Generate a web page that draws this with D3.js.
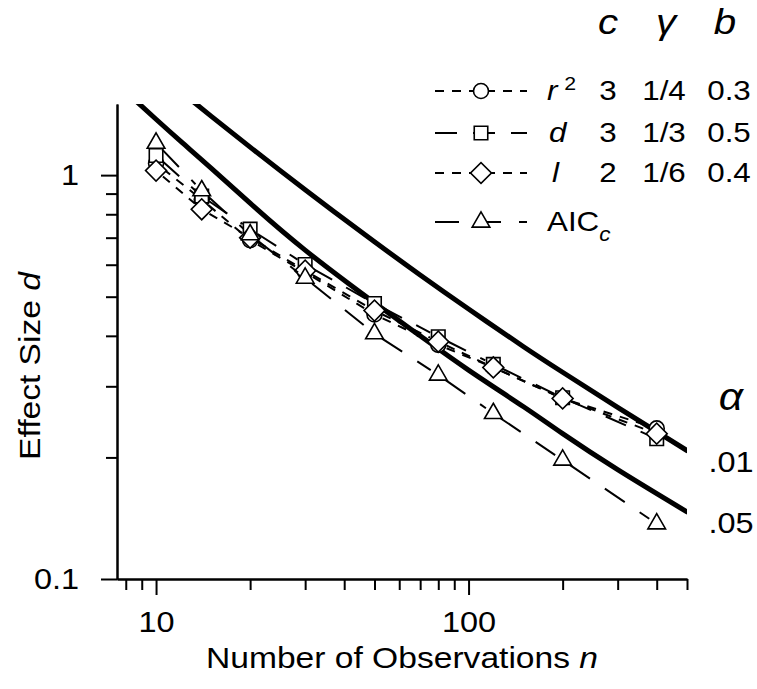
<!DOCTYPE html>
<html>
<head>
<meta charset="utf-8">
<script src="https://cdn.jsdelivr.net/npm/d3@7"></script>
<style>
  body { margin: 0; background: #fff; }
  text { font-family: "Liberation Sans", Arial, sans-serif; fill: #000; }
</style>
</head>
<body>
<div id="chart"></div>
<script>
width = 757;
height = 689;

// sample sizes where the simulated effect sizes were computed
const nObs = [10, 14, 20, 30, 50, 80, 120, 200, 400];
const r2Vals = [1.07, 0.87, 0.69, 0.575, 0.452, 0.38, 0.334, 0.28, 0.236];
const dVals = [1.118, 0.887, 0.735, 0.601, 0.481, 0.398, 0.340, 0.281, 0.2225];
const lVals = [1.026, 0.823, 0.70, 0.58, 0.462, 0.387, 0.334, 0.28, 0.229];
const aicVals = [1.20, 0.915, 0.712, 0.556, 0.405, 0.32, 0.257, 0.197, 0.137];

// critical effect size curves (alpha = .01 and .05)
const crit01N = [13, 15, 20, 30, 50, 70, 100, 150, 200, 300, 500];
const crit01D = [1.531, 1.40, 1.173, 0.92, 0.684, 0.566, 0.466, 0.376, 0.325, 0.266, 0.208];
const crit05N = [8.5, 10, 12, 15, 20, 30, 50, 70, 100, 150, 200, 300, 500];
const crit05D = [1.542, 1.375, 1.212, 1.041, 0.852, 0.652, 0.483, 0.40, 0.329, 0.267, 0.229, 0.1865, 0.1466];
const alphaLabels = [".01", ".05"];

const xMajor = [10, 100];
const xMinor = [8, 9, 20, 30, 40, 50, 60, 70, 80, 90, 200, 300, 400, 500];
const yMajor = [0.1, 1];
const yMinor = [0.2, 0.3, 0.4, 0.5, 0.6, 0.7, 0.8, 0.9];

const paramC = ["3", "3", "2"];
const paramGamma = ["1/4", "1/3", "1/6"];
const paramB = ["0.3", "0.5", "0.4"];

// the original lettering is a bit wider than Liberation Sans
var stretch = 1.12;

const svg = d3.select("#chart")
  .append("svg")
  .attr("width", width)
  .attr("height", height);

var x = d3.scaleLog().domain([7.5, 500]).range([117, 687]);
var y = d3.scaleLog().domain([0.1, 1.5]).range([579, 104]);

svg.append("clipPath").attr("id", "plotClip")
  .append("rect")
  .attr("x", x.range()[0]).attr("y", y.range()[1])
  .attr("width", x.range()[1] - x.range()[0])
  .attr("height", y.range()[0] - y.range()[1]);

function put(sel, px, py, rot) {
  return sel.attr("transform", "translate(" + px + "," + py + ")" + (rot ? " rotate(" + rot + ")" : "") + " scale(" + stretch + ",1)");
}

// axes: minor ticks first, then major ticks with labels
function styleAxis(g) {
  g.selectAll("path, line").attr("stroke", "#000").attr("stroke-width", 2);
  g.selectAll("text").attr("font-size", 29).attr("font-family", "Liberation Sans, Arial, sans-serif");
}

svg.append("g")
  .attr("transform", "translate(" + x.range()[0] + ",0)")
  .call(d3.axisLeft(y).tickValues(yMinor).tickSize(11).tickSizeOuter(0).tickFormat(""))
  .call(styleAxis);
var yAxisG = svg.append("g")
  .attr("transform", "translate(" + x.range()[0] + ",0)")
  .call(d3.axisLeft(y).tickValues(yMajor).tickSize(16).tickSizeOuter(0).tickPadding(22)
        .tickFormat(d => d === 1 ? "1" : "0.1"))
  .call(styleAxis);
yAxisG.selectAll("text")
  .attr("x", -38 / stretch)
  .attr("transform", "scale(" + stretch + ",1)");

svg.append("g")
  .attr("transform", "translate(0," + y.range()[0] + ")")
  .call(d3.axisBottom(x).tickValues(xMinor).tickSize(11).tickSizeOuter(0).tickFormat(""))
  .call(styleAxis);
svg.append("g")
  .attr("transform", "translate(0," + y.range()[0] + ")")
  .call(d3.axisBottom(x).tickValues(xMajor).tickSize(16).tickSizeOuter(0).tickPadding(16)
        .tickFormat(d3.format("d")))
  .call(styleAxis)
  .selectAll("text").attr("transform", "scale(" + stretch + ",1)");

// axis titles
var xt = put(svg.append("text"), (x.range()[0] + x.range()[1]) / 2, 668)
  .attr("text-anchor", "middle")
  .attr("font-size", 30);
xt.append("tspan").text("Number of Observations ");
xt.append("tspan").attr("font-style", "italic").text("n");

var yt = put(svg.append("text"), 40, 366, -90)
  .attr("text-anchor", "middle")
  .attr("font-size", 30);
yt.append("tspan").text("Effect Size ");
yt.append("tspan").attr("font-style", "italic").text("d");

// critical value curves
var critLine = d3.line()
  .x(d => x(d[0]))
  .y(d => y(d[1]))
  .curve(d3.curveNatural);

var critSets = [d3.zip(crit01N, crit01D), d3.zip(crit05N, crit05D)];

svg.append("g")
    .attr("clip-path", "url(#plotClip)")
  .selectAll("path")
  .data(critSets)
  .enter().append("path")
    .attr("d", critLine)
    .attr("fill", "none")
    .attr("stroke", "#000")
    .attr("stroke-width", 5)
    .attr("stroke-linecap", "round");

svg.selectAll(".alphaLab")
  .data(critSets)
  .enter().append("text")
    .attr("class", "alphaLab")
    .attr("transform", d => "translate(731," + (y(d[d.length - 1][1]) + 21) + ") scale(" + stretch + ",1)")
    .attr("text-anchor", "middle")
    .attr("font-size", 29)
    .text((d, i) => alphaLabels[i]);

put(svg.append("text"), 731, 410)
  .attr("text-anchor", "middle")
  .attr("font-family", "Liberation Serif, serif")
  .attr("font-style", "italic")
  .attr("font-size", 38)
  .text("\u03b1");

// marker shapes
var shapes = {
  circle: { path: d3.symbol(d3.symbolCircle, Math.PI * 7.5 * 7.5)(), rot: 0 },
  square: { path: d3.symbol(d3.symbolSquare, 13.5 * 13.5)(), rot: 0 },
  diamond: { path: d3.symbol(d3.symbolSquare, 14.8 * 14.8)(), rot: 45 },
  triangle: { path: d3.symbol(d3.symbolTriangle, 135)(), rot: 0 }
};

var series = [
  { values: r2Vals, shape: "circle", dash: "9,8" },
  { values: dVals, shape: "square", dash: "22,16" },
  { values: lVals, shape: "diamond", dash: "9,8" },
  { values: aicVals, shape: "triangle", dash: "24,18" }
];

// lines between points leave a gap around each marker
var gap = 9;
function segments(vals) {
  var segs = [];
  for (var i = 0; i < vals.length - 1; i++) {
    var x1 = x(nObs[i]), y1 = y(vals[i]), x2 = x(nObs[i + 1]), y2 = y(vals[i + 1]);
    var len = Math.hypot(x2 - x1, y2 - y1);
    if (len <= 2 * gap) continue;
    var ux = (x2 - x1) / len, uy = (y2 - y1) / len;
    segs.push([x1 + ux * gap, y1 + uy * gap, x2 - ux * gap, y2 - uy * gap]);
  }
  return segs;
}

series.forEach(function(s) {
  var g = svg.append("g");
  g.selectAll("line")
    .data(segments(s.values))
    .enter().append("line")
      .attr("x1", d => d[0]).attr("y1", d => d[1])
      .attr("x2", d => d[2]).attr("y2", d => d[3])
      .attr("stroke", "#000")
      .attr("stroke-width", 2)
      .attr("stroke-dasharray", s.dash);
  g.selectAll("path")
    .data(s.values)
    .enter().append("path")
      .attr("d", shapes[s.shape].path)
      .attr("transform", (d, i) => "translate(" + x(nObs[i]) + "," + y(d) + ") rotate(" + shapes[s.shape].rot + ")")
      .attr("fill", "#fff")
      .attr("stroke", "#000")
      .attr("stroke-width", 1.6);
});

// legend
var rowY = [100, 142, 182, 231];
var legend = svg.append("g");

legend.selectAll(".hdr")
  .data(["c", "\u03b3", "b"])
  .enter().append("text")
    .attr("class", "hdr")
    .attr("transform", (d, i) => "translate(" + [608, 666, 725][i] + ",34) scale(" + stretch + ",1)")
    .attr("text-anchor", "middle")
    .attr("font-style", "italic")
    .attr("font-size", 36)
    .attr("font-family", (d, i) => i === 1 ? "Liberation Serif, serif" : null)
    .text(d => d);

series.forEach(function(s, i) {
  var cy = rowY[i] - 9;
  legend.append("line")
    .attr("x1", 435).attr("x2", 527)
    .attr("y1", cy).attr("y2", cy)
    .attr("stroke", "#000")
    .attr("stroke-width", 2)
    .attr("stroke-dasharray", s.dash);
  legend.append("path")
    .attr("d", shapes[s.shape].path)
    .attr("transform", "translate(481," + cy + ") rotate(" + shapes[s.shape].rot + ")")
    .attr("fill", "#fff")
    .attr("stroke", "#000")
    .attr("stroke-width", 1.6);
});

var lab0 = put(legend.append("text"), 547, rowY[0]).attr("font-size", 28);
lab0.append("tspan").attr("font-style", "italic").text("r");
lab0.append("tspan").attr("font-size", 19).attr("dx", 6).attr("dy", -10).text("2");
put(legend.append("text"), 549, rowY[1]).attr("font-size", 28)
  .attr("font-style", "italic").text("d");
put(legend.append("text"), 552, rowY[2]).attr("font-size", 28)
  .attr("font-style", "italic").text("l");
var lab3 = put(legend.append("text"), 547, rowY[3]).attr("font-size", 28);
lab3.append("tspan").text("AIC");
lab3.append("tspan").attr("font-size", 20).attr("font-style", "italic").attr("dy", 10).text("c");

[paramC, paramGamma, paramB].forEach(function(col, j) {
  legend.selectAll(".col" + j)
    .data(col)
    .enter().append("text")
      .attr("transform", (d, i) => "translate(" + [608, 664, 729][j] + "," + rowY[i] + ") scale(" + stretch + ",1)")
      .attr("text-anchor", "middle")
      .attr("font-size", 28)
      .text(d => d);
});
</script>
</body>
</html>
